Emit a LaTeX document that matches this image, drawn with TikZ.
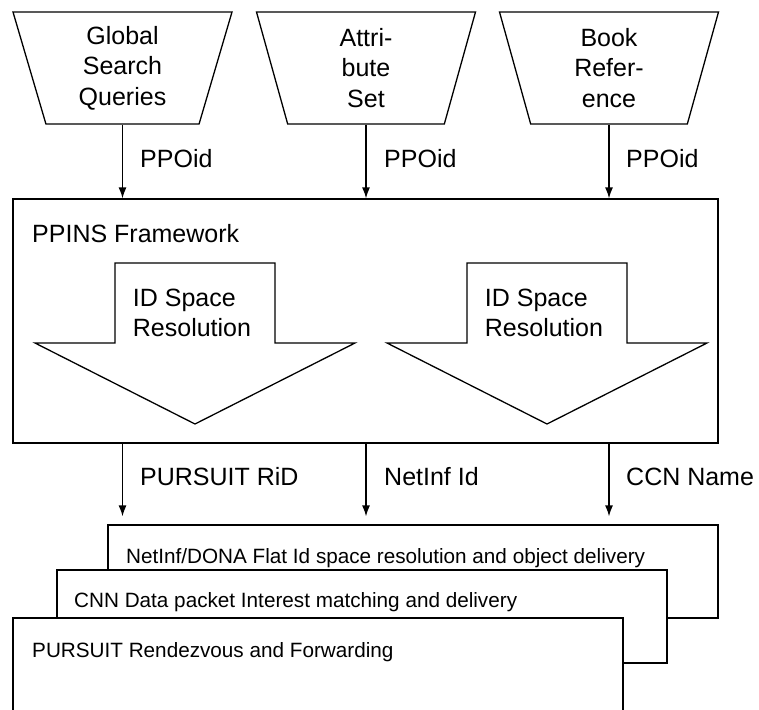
\documentclass[tikz,border=0pt]{standalone}
\usepackage{fontspec}
\setmainfont{Liberation Sans}
\usetikzlibrary{shapes.geometric,arrows.meta}

\tikzset{
  source/.style={trapezium, draw, line width=1.3pt, shape border rotate=180,
    trapezium left angle=68.55, trapezium right angle=68.55,
    trapezium stretches body, minimum width=219pt, minimum height=112pt,
    inner sep=0pt, align=center, font=\fontsize{25}{30.5}\selectfont},
  flow/.style={-{Latex[length=11pt,width=8pt]}, line width=1.3pt},
  idlabel/.style={anchor=base west, inner sep=0pt, font=\fontsize{25}{30}\selectfont},
  layer/.style={draw, fill=white, line width=1.3pt, minimum width=610pt,
    minimum height=93pt, inner sep=0pt},
  layertext/.style={anchor=base west, inner sep=0pt, font=\fontsize{20.7}{25}\selectfont},
  resolver/.style={draw, line width=1.3pt, line join=miter},
}

\begin{document}
\begin{tikzpicture}[x=1pt,y=-1pt]
    \useasboundingbox (0,0) rectangle (759,709);

    % inputs
    \node[source] (gsq) at (122.5,68) {Global\\Search\\Queries};
    \node[source] (attr) at (366,68) {Attri-\\bute\\Set};
    \node[source] (book) at (609,68) {Book\\Refer-\\ence};

    % framework
    \node[draw, line width=1.3pt, minimum width=705pt, minimum height=244pt,
      inner sep=0pt] (fw) at (365.5,321) {};
    \node[idlabel] (fwname) at (32,242) {PPINS Framework};

    \draw[resolver] (115,263) -- (275,263) -- (275,343) -- (355,343)
      -- (195,424) -- (35,343) -- (115,343) -- cycle;
    \draw[resolver] (467,263) -- (627,263) -- (627,343) -- (707,343)
      -- (547,424) -- (387,343) -- (467,343) -- cycle;
    \node[align=left, inner sep=0pt, font=\fontsize{25}{30}\selectfont]
      (res1) at (192,313) {ID Space\\Resolution};
    \node[align=left, inner sep=0pt, font=\fontsize{25}{30}\selectfont]
      (res2) at (544,313) {ID Space\\Resolution};

    % delivery layers
    \node[layer] (netinf) at (413,571.5) {};
    \node[layertext] (netinftext) at (126,563)
      {NetInf/DONA Flat Id space resolution and object delivery};
    \node[layer] (ccn) at (362,616.5) {};
    \node[layertext] (ccntext) at (74,607)
      {CNN Data packet Interest matching and delivery};
    \node[layer] (pursuit) at (318,664.5) {};
    \node[layertext] (pursuittext) at (32,657)
      {PURSUIT Rendezvous and Forwarding};

    % identifiers
    \draw[flow] (gsq.south) -- (gsq.south |- fw.north);
    \draw[flow] (attr.south) -- (attr.south |- fw.north);
    \draw[flow] (book.south) -- (book.south |- fw.north);
    \node[idlabel] (ppo1) at (140,167) {PPOid};
    \node[idlabel] (ppo2) at (384,167) {PPOid};
    \node[idlabel] (ppo3) at (626,167) {PPOid};

    \draw[flow, shorten >=8pt] (fw.south -| gsq.south) -- (netinf.north -| gsq.south);
    \draw[flow, shorten >=8pt] (fw.south -| attr.south) -- (netinf.north -| attr.south);
    \draw[flow, shorten >=8pt] (fw.south -| book.south) -- (netinf.north -| book.south);
    \node[idlabel] (rid) at (140,485) {PURSUIT RiD};
    \node[idlabel] (nid) at (384,485) {NetInf Id};
    \node[idlabel] (cname) at (626,485) {CCN Name};
\end{tikzpicture}
\end{document}
